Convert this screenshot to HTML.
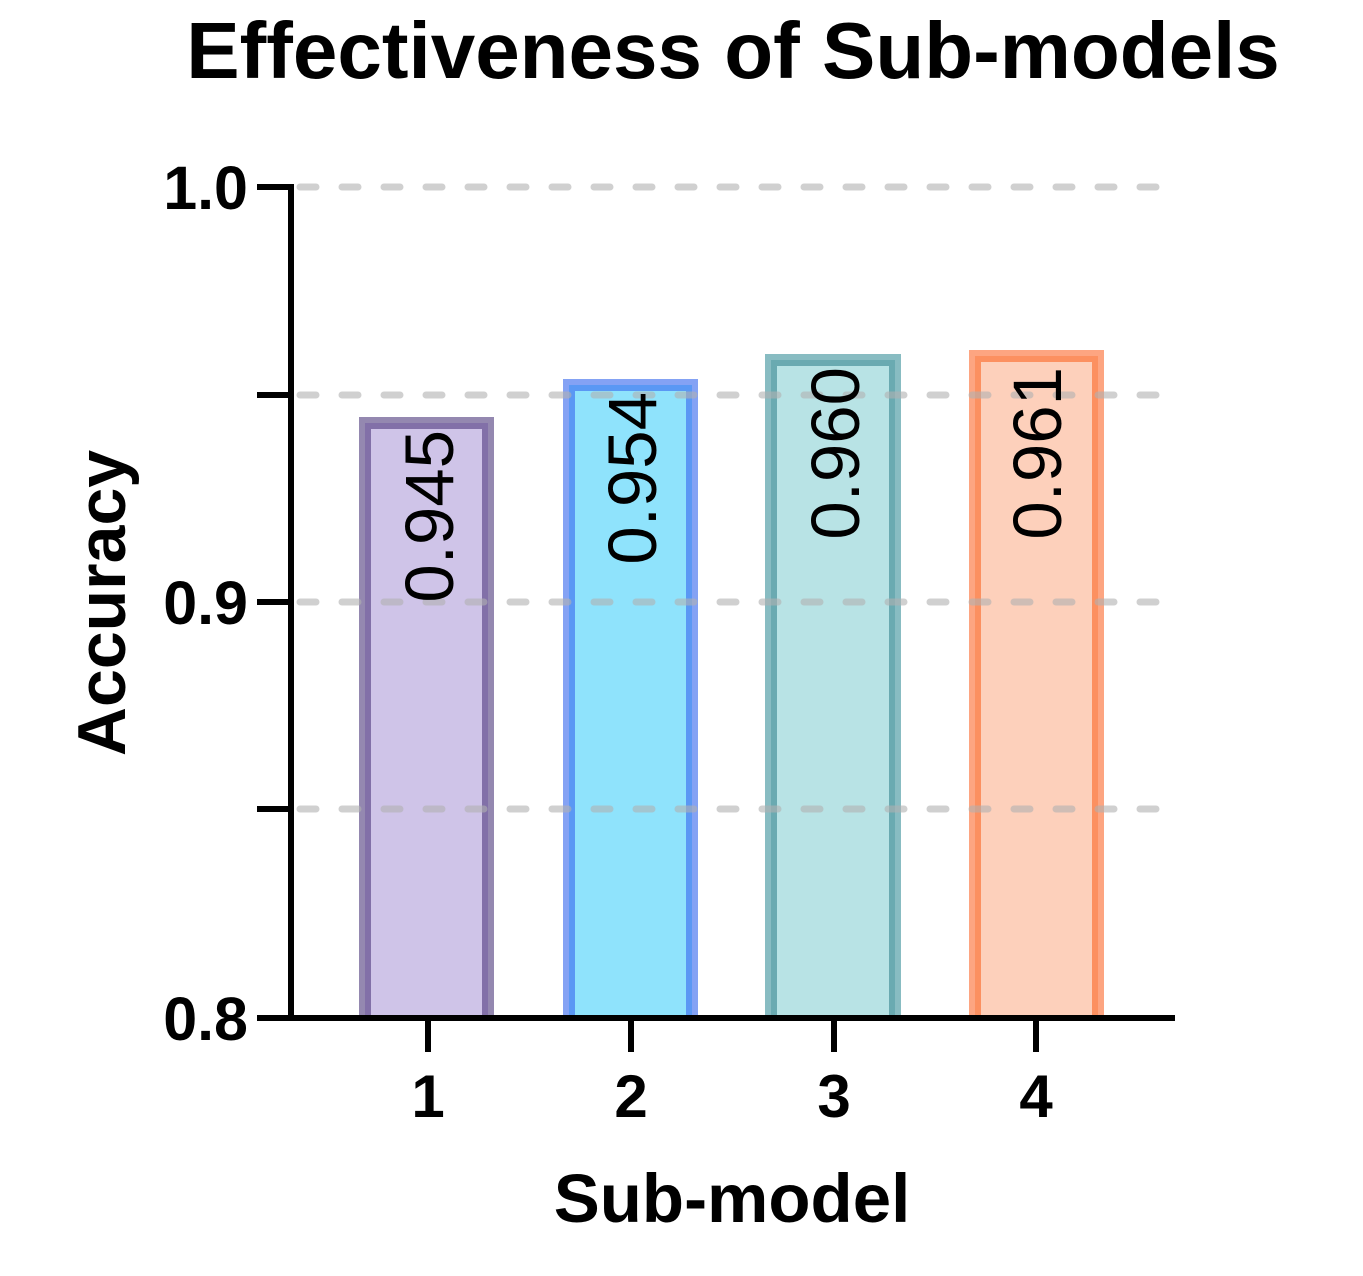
<!DOCTYPE html>
<html><head><style>body{margin:0;background:#fff}</style></head><body>
<svg width="1363" height="1271" xmlns="http://www.w3.org/2000/svg" font-family="Liberation Sans, Arial, sans-serif">
<rect width="1363" height="1271" fill="#fff"/>
<text x="733" y="78" font-size="80" font-weight="bold" text-anchor="middle">Effectiveness of Sub-models</text>
<g>
<rect x="359" y="417" width="135" height="601" fill="#9488b0"/><rect x="365" y="423" width="123" height="595" fill="#8270a8"/><rect x="371" y="429" width="111" height="589" fill="#cfc4e8"/>
<rect x="563" y="379" width="135" height="639" fill="#84a2f4"/><rect x="569" y="385" width="123" height="633" fill="#5a98f4"/><rect x="575" y="391" width="111" height="627" fill="#8fe3fc"/>
<rect x="765" y="354" width="136" height="664" fill="#88bcc2"/><rect x="771" y="360" width="124" height="658" fill="#6aaab1"/><rect x="777" y="366" width="112" height="652" fill="#b8e3e5"/>
<rect x="969" y="350" width="135" height="668" fill="#fda581"/><rect x="975" y="356" width="123" height="662" fill="#fc9060"/><rect x="981" y="362" width="111" height="656" fill="#fdd0bb"/>
</g>
<g stroke="#b0b0b0" stroke-opacity="0.6" stroke-width="7" stroke-linecap="round" stroke-dasharray="16 26">
<line x1="300" y1="187" x2="1170" y2="187"/>
<line x1="300" y1="395" x2="1170" y2="395"/>
<line x1="300" y1="602" x2="1170" y2="602"/>
<line x1="300" y1="809" x2="1170" y2="809"/>
</g>
<g font-size="69" text-anchor="end">
<text transform="translate(453,430) rotate(-90)">0.945</text>
<text transform="translate(656,392) rotate(-90)">0.954</text>
<text transform="translate(859,367) rotate(-90)">0.960</text>
<text transform="translate(1061,367) rotate(-90)">0.961</text>
</g>
<g stroke="#000" stroke-width="6">
<line x1="291" y1="184" x2="291" y2="1021"/>
<line x1="288" y1="1018" x2="1175" y2="1018"/>
<line x1="257" y1="187" x2="291" y2="187"/>
<line x1="257" y1="395" x2="291" y2="395"/>
<line x1="257" y1="602" x2="291" y2="602"/>
<line x1="257" y1="809" x2="291" y2="809"/>
<line x1="257" y1="1018" x2="291" y2="1018"/>
<line x1="428" y1="1018" x2="428" y2="1052"/>
<line x1="631" y1="1018" x2="631" y2="1052"/>
<line x1="834" y1="1018" x2="834" y2="1052"/>
<line x1="1036" y1="1018" x2="1036" y2="1052"/>
</g>
<g font-size="61" font-weight="bold" text-anchor="end">
<text x="248" y="209">1.0</text>
<text x="248" y="624">0.9</text>
<text x="248" y="1040">0.8</text>
</g>
<g font-size="60" font-weight="bold" text-anchor="middle">
<text x="428" y="1117">1</text>
<text x="631" y="1117">2</text>
<text x="834" y="1117">3</text>
<text x="1036" y="1117">4</text>
<text x="732" y="1222" font-size="69">Sub-model</text>
<text transform="translate(125,603) rotate(-90)" font-size="68">Accuracy</text>
</g>
</svg>
</body></html>
